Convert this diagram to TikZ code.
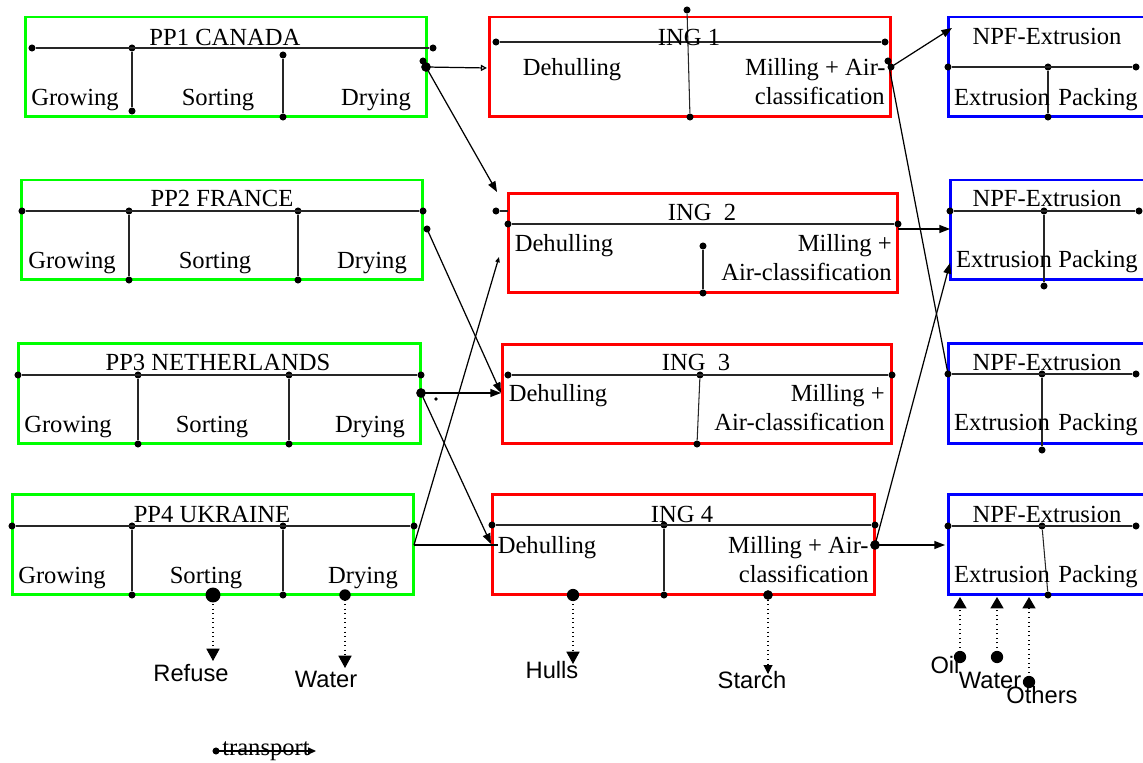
\documentclass[tikz,border=0pt]{standalone}
\usepackage{fontspec}
\setmainfont{Liberation Serif}
\newfontfamily\labelfont{Liberation Sans}
\usetikzlibrary{arrows.meta}
\definecolor{ppgreen}{RGB}{0,255,0}
\definecolor{ingred}{RGB}{255,0,0}
\definecolor{npfblue}{RGB}{0,0,255}
\tikzset{
  box/.style={rectangle, inner sep=0pt, line width=1.7pt},
  ppbox/.style={box, draw=ppgreen},
  ingbox/.style={box, draw=ingred},
  npfbox/.style={box, draw=npfblue},
  dot/.style={circle, fill=black, inner sep=0pt, minimum size=4pt},
  middot/.style={circle, fill=black, inner sep=0pt, minimum size=5.5pt},
  bigdot/.style={circle, fill=black, inner sep=0pt, minimum size=7pt},
  tinydot/.style={circle, fill=black, inner sep=0pt, minimum size=2.2pt},
  div/.style={line width=0.6pt, black!85},
  txt/.style={inner sep=0pt, font=\fontsize{14}{16}\selectfont, anchor=base},
  rtxt/.style={txt, anchor=base east},
  lbl/.style={inner sep=0pt, font=\labelfont\fontsize{13.5}{15}\selectfont, anchor=base},
  flow/.style={line width=0.7pt, -{Triangle[length=6pt,width=4.5pt]}},
  link/.style={line width=0.7pt},
  stream/.style={line width=0.6pt, dotted, -{Triangle[length=7pt,width=7.5pt]}},
  instream/.style={line width=0.6pt, dotted, -{Triangle[length=6.5pt,width=7.5pt]}},
}
\begin{document}
\begin{tikzpicture}[x=0.02cm, y=-0.02cm]
\useasboundingbox (0,0) rectangle (1143,763);
\clip (0,0) rectangle (1143,763);

% ---------------- producers ----------------
% PP1
\node[ppbox, minimum width=8.04cm, minimum height=2cm] (pp1) at (226,67) {};
\node[dot] (pp1a) at (32,48) {};
\node[dot] (pp1b) at (132,48) {};
\node[dot] (pp1c) at (433,48) {};
\node[dot] (pp1d) at (132,111) {};
\node[dot] (pp1e) at (283,55) {};
\node[dot] (pp1f) at (283,117) {};
\draw[div] (pp1a) -- (pp1c);
\draw[div] (pp1b) -- (pp1d);
\draw[div] (pp1e) -- (pp1f);
\node[txt] (pp1t) at (225,46) {PP1 CANADA};
\node[txt] (pp1g) at (75,106) {Growing};
\node[txt] (pp1s) at (218,106) {Sorting};
\node[txt] (pp1r) at (376,106) {Drying};
\node[dot] (pp1x) at (423,61) {};
\node[middot] (pp1o) at (426,67) {};

% PP2
\node[ppbox, minimum width=8.04cm, minimum height=2cm] (pp2) at (222,230) {};
\node[dot] (pp2a) at (22,211) {};
\node[dot] (pp2b) at (129,211) {};
\node[dot] (pp2c) at (298,211) {};
\node[dot] (pp2d) at (423,211) {};
\node[dot] (pp2e) at (129,280) {};
\node[dot] (pp2f) at (298,280) {};
\draw[div] (pp2a) -- (pp2d);
\draw[div] (pp2b) -- (pp2e);
\draw[div] (pp2c) -- (pp2f);
\node[txt] (pp2t) at (222,207) {PP2 FRANCE};
\node[txt] (pp2g) at (72,269) {Growing};
\node[txt] (pp2s) at (215,269) {Sorting};
\node[txt] (pp2r) at (372,269) {Drying};
\node[dot] (pp2o) at (427,229) {};

% PP3
\node[ppbox, minimum width=8.06cm, minimum height=2.02cm] (pp3) at (219.5,393.5) {};
\node[dot] (pp3a) at (18,375) {};
\node[dot] (pp3b) at (138,375) {};
\node[dot] (pp3c) at (289,375) {};
\node[dot] (pp3d) at (421,375) {};
\node[dot] (pp3e) at (138,444) {};
\node[dot] (pp3f) at (289,444) {};
\draw[div] (pp3a) -- (pp3d);
\draw[div] (pp3b) -- (pp3e);
\draw[div] (pp3c) -- (pp3f);
\node[txt] (pp3t) at (218,371) {PP3 NETHERLANDS};
\node[txt] (pp3g) at (68,433) {Growing};
\node[txt] (pp3s) at (212,433) {Sorting};
\node[txt] (pp3r) at (370,433) {Drying};
\node[middot] (pp3o) at (421,393) {};
\node[tinydot] (pp3x) at (436,399) {};

% PP4
\node[ppbox, minimum width=8.04cm, minimum height=2.02cm] (pp4) at (213,544.5) {};
\node[dot] (pp4a) at (12,526) {};
\node[dot] (pp4b) at (132,526) {};
\node[dot] (pp4c) at (283,526) {};
\node[dot] (pp4d) at (414,526) {};
\node[dot] (pp4e) at (132,595) {};
\node[dot] (pp4f) at (283,595) {};
\draw[div] (pp4a) -- (pp4d);
\draw[div] (pp4b) -- (pp4e);
\draw[div] (pp4c) -- (pp4f);
\node[txt] (pp4t) at (212,522) {PP4 UKRAINE};
\node[txt] (pp4g) at (62,583) {Growing};
\node[txt] (pp4s) at (206,583) {Sorting};
\node[txt] (pp4r) at (363,583) {Drying};
\coordinate (pp4o) at (414,545);
\node[bigdot, minimum size=8.5pt] (pp4w) at (213,595) {};
\node[bigdot, minimum size=6.5pt] (pp4v) at (345,595) {};

% ---------------- ingredient plants ----------------
% ING1
\node[ingbox, minimum width=8.04cm, minimum height=2cm] (ing1) at (690,67) {};
\node[dot] (ing1a) at (496,42) {};
\node[dot] (ing1b) at (885,42) {};
\node[dot] (ing1c) at (687,10) {};
\node[dot] (ing1d) at (690,117) {};
\draw[div] (ing1a) -- (ing1b);
\draw[div] (ing1c) -- (ing1d);
\node[txt] (ing1t) at (689,46) {ING 1};
\node[txt] (ing1h) at (572,76) {Dehulling};
\node[rtxt] (ing1m) at (886,76) {Milling + Air-};
\node[rtxt] (ing1n) at (885,105) {classification};
\node[dot] (ing1x) at (888,61) {};
\node[dot] (ing1o) at (891,67) {};

% ING2
\node[ingbox, minimum width=7.8cm, minimum height=2cm] (ing2) at (703,243) {};
\node[dot] (ing2a) at (508,224) {};
\node[dot] (ing2b) at (898,224) {};
\node[dot] (ing2c) at (703,246) {};
\node[dot] (ing2d) at (703,293) {};
\draw[div] (ing2a) -- (ing2b);
\draw[div] (ing2c) -- (ing2d);
\node[dot] (ing2s) at (496,211) {};
\coordinate (ing2e) at (508,211);
\draw[div] (ing2s) -- (ing2e);
\node[txt] (ing2t) at (702,221) {ING\ \ 2};
\node[txt] (ing2h) at (564,252) {Dehulling};
\node[rtxt] (ing2m) at (892,252) {Milling +};
\node[rtxt] (ing2n) at (892,281) {Air-classification};
\coordinate (ing2o) at (898,229);
\coordinate (ing2i) at (497,192);
\coordinate (ing2j) at (499,257);

% ING3
\node[ingbox, minimum width=7.8cm, minimum height=2cm] (ing3) at (697,394) {};
\node[dot] (ing3a) at (508,375) {};
\node[dot] (ing3b) at (700,375) {};
\node[dot] (ing3c) at (892,375) {};
\node[dot] (ing3d) at (697,444) {};
\draw[div] (ing3a) -- (ing3c);
\draw[div] (ing3b) -- (ing3d);
\node[txt] (ing3t) at (696,371) {ING\ \ 3};
\node[txt] (ing3h) at (558,402) {Dehulling};
\node[rtxt] (ing3m) at (885,402) {Milling +};
\node[rtxt] (ing3n) at (885,431) {Air-classification};
\coordinate (ing3i) at (501,393);

% ING4
\node[ingbox, minimum width=7.66cm, minimum height=2.02cm] (ing4) at (683.5,544.5) {};
\node[dot] (ing4a) at (492,525) {};
\node[dot] (ing4b) at (664,525) {};
\node[dot] (ing4c) at (875,525) {};
\node[dot] (ing4d) at (664,595) {};
\draw[div] (ing4a) -- (ing4c);
\draw[div] (ing4b) -- (ing4d);
\node[txt] (ing4t) at (682,522) {ING 4};
\node[txt] (ing4h) at (547,553) {Dehulling};
\node[rtxt] (ing4m) at (869,553) {Milling + Air-};
\node[rtxt] (ing4n) at (869,582) {classification};
\node[middot] (ing4o) at (875,545) {};
\node[bigdot] (ing4w) at (573,595) {};
\node[middot] (ing4v) at (768,595) {};
\coordinate (ing4i) at (491,544);
\coordinate (ing4e) at (498,545);

% ---------------- NPF plants ----------------
% NPF1
\node[npfbox, minimum width=4.24cm, minimum height=2cm] (npf1) at (1054,67) {};
\node[dot] (npf1a) at (948,67) {};
\node[dot] (npf1b) at (1048,67) {};
\node[dot] (npf1c) at (1136,67) {};
\node[dot] (npf1d) at (1048,117) {};
\draw[div] (npf1a) -- (npf1c);
\draw[div] (npf1b) -- (npf1d);
\node[txt] (npf1t) at (1047,45) {NPF-Extrusion};
\node[txt] (npf1e) at (1002,106) {Extrusion};
\node[txt] (npf1p) at (1098,106) {Packing};
\coordinate (npf1i) at (952,28);

% NPF2
\node[npfbox, minimum width=4.24cm, minimum height=2cm] (npf2) at (1056,230) {};
\node[dot] (npf2a) at (950,211) {};
\node[dot] (npf2b) at (1044,211) {};
\node[dot] (npf2c) at (1139,211) {};
\node[dot] (npf2d) at (1044,286) {};
\draw[div] (npf2a) -- (npf2c);
\draw[div] (npf2b) -- (npf2d);
\node[txt] (npf2t) at (1047,207) {NPF-Extrusion};
\node[txt] (npf2e) at (1004,268) {Extrusion};
\node[txt] (npf2p) at (1098,268) {Packing};
\coordinate (npf2i) at (950,229);
\coordinate (npf2j) at (950,263);

% NPF3
\node[npfbox, minimum width=4.24cm, minimum height=2.02cm] (npf3) at (1054,393.5) {};
\node[dot] (npf3a) at (948,374) {};
\node[dot] (npf3b) at (1042,374) {};
\node[dot] (npf3c) at (1136,374) {};
\node[dot] (npf3d) at (1042,450) {};
\draw[div] (npf3a) -- (npf3c);
\draw[div] (npf3b) -- (npf3d);
\node[txt] (npf3t) at (1047,371) {NPF-Extrusion};
\node[txt] (npf3e) at (1002,431) {Extrusion};
\node[txt] (npf3p) at (1098,431) {Packing};

% NPF4
\node[npfbox, minimum width=4.24cm, minimum height=2.02cm] (npf4) at (1054,544.5) {};
\node[dot] (npf4a) at (948,526) {};
\node[dot] (npf4b) at (1042,526) {};
\node[dot] (npf4c) at (1136,526) {};
\node[dot] (npf4d) at (1048,595) {};
\draw[div] (npf4a) -- (npf4c);
\draw[div] (npf4b) -- (npf4d);
\node[txt] (npf4t) at (1047,522) {NPF-Extrusion};
\node[txt] (npf4e) at (1002,582) {Extrusion};
\node[txt] (npf4p) at (1098,582) {Packing};
\coordinate (npf4i) at (945,545);
\coordinate (npf4u) at (960,597);
\coordinate (npf4v) at (997,597);
\coordinate (npf4w) at (1029,597);

% ---------------- transport links ----------------
\draw[link, -{Triangle[open,length=3.5pt,width=3.5pt]}] (pp1o.center) -- (487,68) coordinate (ing1i);
\draw[flow] (pp1o.center) -- (ing2i);
\draw[flow] (pp2o.center) -- (ing3i);
\draw[flow] (pp3o.center) -- (ing3i);
\draw[flow] (pp3o.center) -- (ing4i);
\draw[link, -{Triangle[length=3pt,width=2.5pt]}] (pp4o) -- (ing2j);
\draw[link] (pp4o) -- (ing4e);
\draw[flow] (ing1o.center) -- (npf1i);
\draw[link] (ing1x.center) -- (npf3a.center);
\draw[flow] (ing2o) -- (npf2i);
\draw[flow] (ing4o.center) -- (npf2j);
\draw[flow] (ing4o.center) -- (npf4i);

% ---------------- side streams ----------------
\coordinate (refuse) at (213,661);
\coordinate (water1) at (345,668);
\coordinate (hulls) at (573,664);
\coordinate (starch) at (768,674);
\draw[stream] (pp4w.center) -- (refuse);
\draw[stream] (pp4v.center) -- (water1);
\draw[stream] (ing4w.center) -- (hulls);
\draw[stream, -{Triangle[length=5pt,width=5pt]}] (ing4v.center) -- (starch);
\node[lbl] (refusel) at (191,681) {Refuse};
\node[lbl] (water1l) at (326,687) {Water};
\node[lbl] (hullsl) at (552,678) {Hulls};
\node[lbl] (starchl) at (752,688) {Starch};

\node[bigdot] (oil) at (960,657) {};
\node[bigdot] (water2) at (997,657) {};
\node[bigdot] (others) at (1029,682) {};
\draw[instream] (oil.center) -- (npf4u);
\draw[instream] (water2.center) -- (npf4v);
\draw[instream] (others.center) -- (npf4w);
\node[lbl] (oill) at (945,673) {Oil};
\node[lbl] (water2l) at (990,688) {Water};
\node[lbl] (othersl) at (1042,703) {Others};

% ---------------- legend ----------------
\node[dot] (leg0) at (216,751) {};
\coordinate (leg1) at (316,751);
\draw[link, -{Triangle[length=4.5pt,width=4pt]}] (leg0.center) -- (leg1);
\node[txt] (legt) at (266,755) {transport};
\end{tikzpicture}
\end{document}
